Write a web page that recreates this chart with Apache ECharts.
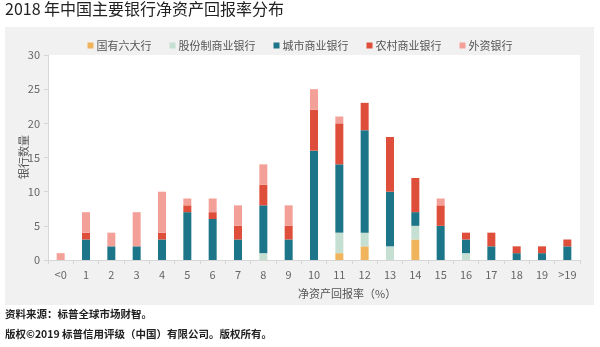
<!DOCTYPE html>
<html><head><meta charset="utf-8">
<script src="https://cdn.jsdelivr.net/npm/echarts@6/dist/echarts.min.js"></script>
<style>html,body{margin:0;padding:0;background:#fff;}#c{width:600px;height:347px;}</style>
</head><body><div id="c"></div>
<script>
const categories = ['<0','1','2','3','4','5','6','7','8','9','10','11','12','13','14','15','16','17','18','19','>19'];
const big6    = [0,0,0,0,0,0,0,0,0,0,0,1,2,0,3,0,0,0,0,0,0];
const joint   = [0,0,0,0,0,0,0,0,1,0,0,3,2,2,2,0,1,0,0,0,0];
const city    = [0,3,2,2,3,7,6,3,7,3,16,10,15,8,2,5,2,2,1,1,2];
const rural   = [0,1,0,0,1,1,1,2,3,2,6,6,4,8,5,3,1,2,1,1,1];
const foreign = [1,3,2,5,6,1,2,3,3,3,3,1,0,0,0,1,0,0,0,0,0];
const seriesNames = ['国有六大行','股份制商业银行','城市商业银行','农村商业银行','外资银行'];
const yTicks = [0,5,10,15,20,25,30];

const colors = ['#f0b55c','#c6dfd3','#1d7589','#df4e3a','#f3a198'];
const font = '"Noto Sans CJK SC", "Noto Sans", sans-serif';
const chart = echarts.init(document.getElementById('c'));
const datas = [big6, joint, city, rural, foreign];
chart.setOption({
  animation:false,
  color: colors,
  graphic:[
    {type:'rect', shape:{x:5,y:27,width:589,height:278}, style:{fill:'#f1f1f1'}, z:-10, silent:true},
    {type:'text', left:5, top:1, style:{text:'2018 年中国主要银行净资产回报率分布', font:'16px '+font, fill:'#222'}},
    {type:'text', left:298, top:288, style:{text:'净资产回报率（%）', font:'11px '+font, fill:'#555', align:'center'}},
    {type:'text', x:24, y:157, rotation:Math.PI/2, style:{text:'银行数量', font:'11px '+font, fill:'#555', align:'center', verticalAlign:'middle'}},
    {type:'text', left:5, top:309, style:{text:'资料来源：标普全球市场财智。', font:'bold 10.5px '+font, fill:'#222'}},
    {type:'text', left:5, top:329, style:{text:'版权©2019 标普信用评级（中国）有限公司。版权所有。', font:'bold 10.5px '+font, fill:'#222'}}
  ],
  legend:{
    top:35, left:'center', itemWidth:6, itemHeight:6, itemGap:18,
    icon:'rect',
    textStyle:{fontFamily:font, fontSize:11, color:'#555', padding:[0,0,0,-2]},
    data: seriesNames
  },
  grid:{left:48, right:20, top:55, bottom:87, show:true, backgroundColor:'#fff', borderWidth:0},
  xAxis:{
    type:'category', data:categories,
    axisLine:{lineStyle:{color:'#d6d6d6'}},
    axisTick:{show:true, length:4, lineStyle:{color:'#d6d6d6'}},
    axisLabel:{fontFamily:font, fontSize:11, color:'#666', margin:9}
  },
  yAxis:{
    type:'value', min:yTicks[0], max:yTicks[yTicks.length-1], interval:5,
    axisLine:{show:true, lineStyle:{color:'#d6d6d6'}},
    axisTick:{show:true, length:4, lineStyle:{color:'#d6d6d6'}},
    splitLine:{show:false},
    axisLabel:{fontFamily:font, fontSize:11, color:'#666', margin:8}
  },
  series: seriesNames.map((n,i)=>({
    name:n, type:'bar', stack:'s', data:datas[i], barWidth:8
  }))
});
</script></body></html>
